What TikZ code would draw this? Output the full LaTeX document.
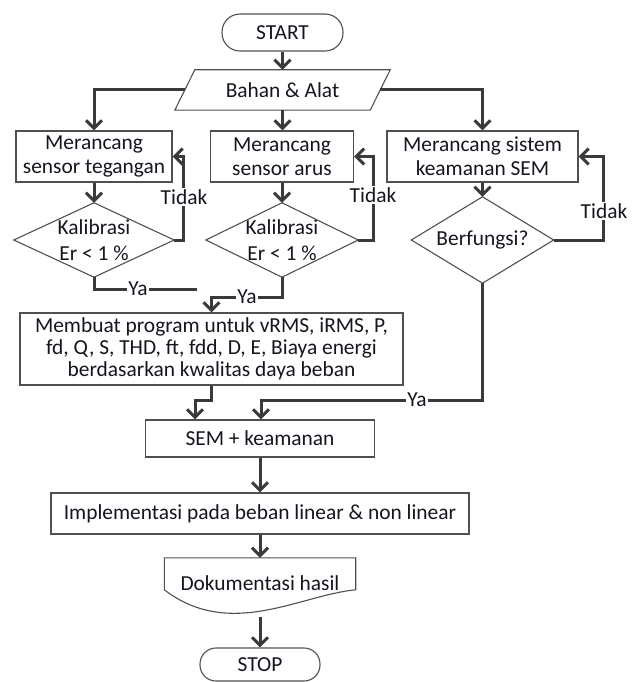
\documentclass[tikz,border=0pt]{standalone}
\usepackage{fontspec}
\setmainfont{Carlito}
\usetikzlibrary{arrows.meta}
\definecolor{ln}{HTML}{3A3A3A}
\definecolor{bd}{HTML}{505050}
\definecolor{tx}{HTML}{15151F}
\begin{document}
\begin{tikzpicture}[x=1pt,y=-1pt,
  every node/.style={font=\fontsize{21.4}{24}\selectfont, text=tx},
  box/.style={draw=bd, line width=1.1pt, fill=white, inner sep=0pt, align=center},
  plain/.style={inner sep=0pt, align=center},
  outline/.style={draw=bd, line width=1.1pt},
  conn/.style={draw=ln, line width=3pt, -{Straight Barb[length=8pt,width=16pt]}},
  link/.style={draw=ln, line width=3pt},
  lbl/.style={fill=white, inner sep=1pt}]
\useasboundingbox (0,0) rectangle (638,682);

% nodes
\node[box, rounded corners=18pt, minimum width=121pt, minimum height=37pt] (start) at (282.5,32.5) {START};
\node[plain, minimum width=195pt, minimum height=40pt] (bahan) at (282.5,90) {Bahan \& Alat};
\draw[outline] ([xshift=10pt]bahan.north west) -- ([xshift=10pt]bahan.north east) -- ([xshift=-10pt]bahan.south east) -- ([xshift=-10pt]bahan.south west) -- cycle;

\node[box, minimum width=156pt, minimum height=51pt] (m1) at (94,156.5) {Merancang\\sensor tegangan};
\node[box, minimum width=143pt, minimum height=51pt] (m2) at (282,156.5) {Merancang\\sensor arus};
\node[box, minimum width=191pt, minimum height=51pt] (m3) at (482.5,156.5) {Merancang sistem\\keamanan SEM};

\node[plain, minimum width=160pt, minimum height=74pt, font=\fontsize{21.4}{26}\selectfont] (d1) at (94,240) {Kalibrasi\\Er < 1 \%};
\draw[outline] (d1.north) -- (d1.east) -- (d1.south) -- (d1.west) -- cycle;
\node[plain, minimum width=152pt, minimum height=74pt, font=\fontsize{21.4}{26}\selectfont] (d2) at (282,240) {Kalibrasi\\Er < 1 \%};
\draw[outline] (d2.north) -- (d2.east) -- (d2.south) -- (d2.west) -- cycle;
\node[plain, minimum width=142pt, minimum height=86pt] (d3) at (482.5,240) {Berfungsi?};
\draw[outline] (d3.north) -- (d3.east) -- (d3.south) -- (d3.west) -- cycle;

\node[box, minimum width=383pt, minimum height=72pt, font=\fontsize{21.4}{22}\selectfont] (p) at (211.5,349) {Membuat program untuk vRMS, iRMS, P,\\fd, Q, S, THD, ft, fdd, D, E, Biaya energi\\berdasarkan kwalitas daya beban};

\node[box, minimum width=229pt, minimum height=37pt] (sem) at (260,438.5) {SEM + keamanan};
\node[box, minimum width=418pt, minimum height=41pt] (impl) at (260,513.5) {Implementasi pada beban linear \& non linear};

\node[plain, minimum width=191pt, minimum height=50pt] (doc) at (260,583) {Dokumentasi hasil};
\draw[outline] (doc.north west) -- (doc.north east) -- ([yshift=-32pt]doc.north east) .. controls (300,595) and (230,640) .. ([yshift=-32pt]doc.north west) -- cycle;
\coordinate (docb) at (260,617);

\node[box, rounded corners=16pt, minimum width=120pt, minimum height=33pt] (stop) at (260,664.5) {STOP};

% connectors
\draw[conn] (start.south) -- (start.south |- bahan.north);
\draw[conn] (bahan.west) -| (m1.north);
\draw[conn] (bahan.south) -- (bahan.south |- m2.north);
\draw[conn] (bahan.east) -| (m3.north);

\draw[conn] (m1.south) -- (d1.north);
\draw[conn] (m2.south) -- (d2.north);
\draw[conn] (m3.south) -- (d3.north);

\draw[conn] (d1.east) -- ++(9,0) |- (m1.east);
\draw[conn] (d2.east) -- ++(15,0) |- (m2.east);
\draw[conn] (d3.east) -- ++(50,0) |- (m3.east);

\coordinate (ya1) at (197,289);
\draw[link] (d1.south) |- (ya1);
\draw[conn] (d2.south) -- ++(0,20) -| (p.north);
\draw[conn] (p.south) -- ++(0,15) -| ([xshift=-65pt]sem.north);
\draw[conn] (d3.south) -- ++(0,117) -| ([xshift=1pt]sem.north);

\draw[conn] (sem.south) -- (sem.south |- impl.north);
\draw[conn] (impl.south) -- (impl.south |- doc.north);
\draw[conn] (docb) -- (docb |- stop.north);

% labels
\node[lbl] (t1) at (184,197) {Tidak};
\node[lbl] (t2) at (373,195) {Tidak};
\node[lbl] (t3) at (604,211) {Tidak};
\node[lbl] (y1) at (138,289) {Ya};
\node[lbl] (y2) at (247,297) {Ya};
\node[lbl] (y3) at (417,400) {Ya};
\end{tikzpicture}
\end{document}
